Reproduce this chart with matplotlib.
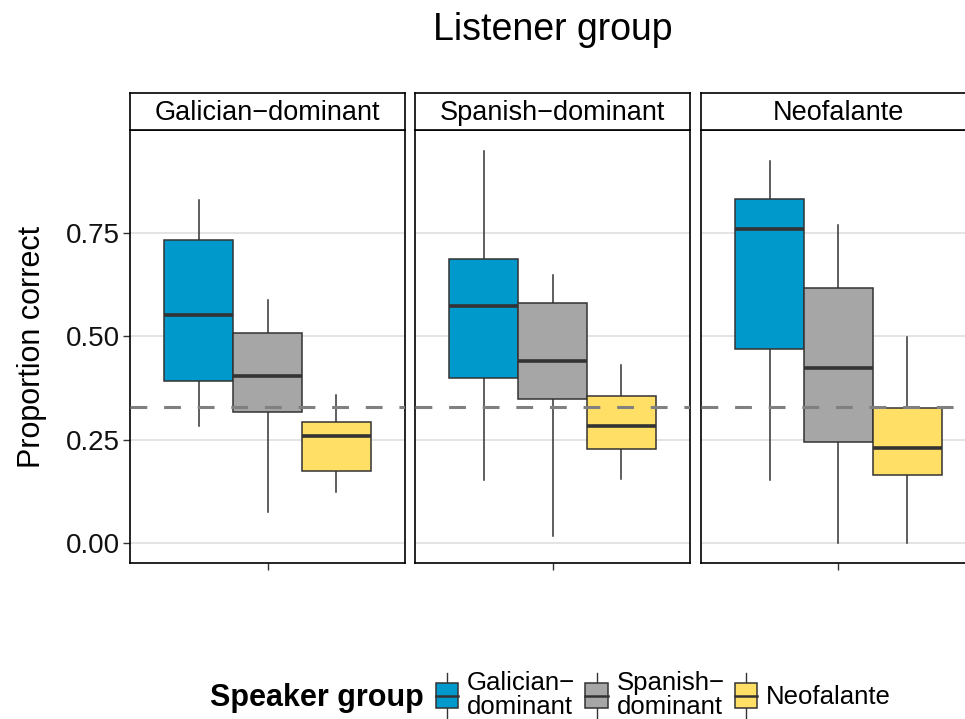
import matplotlib
matplotlib.use("Agg")
import matplotlib.pyplot as plt
from matplotlib.patches import Rectangle
from matplotlib.lines import Line2D
from matplotlib.legend_handler import HandlerBase

plt.rcParams['font.family'] = ['Liberation Sans', 'DejaVu Sans']

# Data (proportion correct)
listeners = ["Galician\u2212dominant", "Spanish\u2212dominant", "Neofalante"]
speakers = ["Galician\u2212\ndominant", "Spanish\u2212\ndominant", "Neofalante"]
colors = ["#0099CC", "#A6A6A6", "#FFDF66"]

# per listener group, per speaker group: [whislo, q1, med, q3, whishi]
galician_listeners = [[0.283, 0.392, 0.552, 0.732, 0.828],
                      [0.075, 0.317, 0.405, 0.508, 0.587],
                      [0.123, 0.175, 0.259, 0.293, 0.357]]
spanish_listeners = [[0.153, 0.399, 0.572, 0.686, 0.946],
                     [0.017, 0.349, 0.439, 0.579, 0.648],
                     [0.155, 0.228, 0.284, 0.356, 0.430]]
neofalante_listeners = [[0.153, 0.470, 0.759, 0.832, 0.922],
                        [0.000, 0.245, 0.422, 0.615, 0.768],
                        [0.000, 0.166, 0.229, 0.327, 0.498]]
chance = 0.33

panels = [galician_listeners, spanish_listeners, neofalante_listeners]

W, H = 965, 719
fig = plt.figure(figsize=(W / 100, H / 100), dpi=100)


def px_box(left, top, right, bottom):
    return [left / W, 1 - bottom / H, (right - left) / W, (bottom - top) / H]


edge = "#333333"
lefts = [130, 415, 701]
for i, (name, stats) in enumerate(zip(listeners, panels)):
    l = lefts[i]
    ax = fig.add_axes(px_box(l, 130, l + 275, 563))
    bxp_stats = []
    for s in stats:
        bxp_stats.append(dict(whislo=s[0], q1=s[1], med=s[2], q3=s[3], whishi=s[4], fliers=[]))
    positions = [0.7, 1.0, 1.3]
    parts = ax.bxp(bxp_stats, positions=positions, widths=0.3, showcaps=False,
                   patch_artist=True, manage_ticks=False,
                   boxprops=dict(edgecolor=edge, linewidth=1.1),
                   whiskerprops=dict(color=edge, linewidth=1.1),
                   medianprops=dict(color=edge, linewidth=2.6, solid_capstyle='butt'))
    for patch, c in zip(parts['boxes'], colors):
        patch.set_facecolor(c)
        patch.set_zorder(3)
    for m in parts['medians']:
        m.set_zorder(4)
    for w in parts['whiskers']:
        w.set_zorder(2)
    ax.axhline(chance, color="#808080", linewidth=2.2, dashes=(5.5, 5.5), zorder=5)
    ax.set_xlim(0.4, 1.6)
    ax.set_ylim(-0.0475, 0.9975)
    ax.set_yticks([0, 0.25, 0.5, 0.75])
    ax.yaxis.grid(True, color="#dcdcdc", linewidth=1.1)
    ax.set_axisbelow(True)
    ax.set_xticks([1.0])
    ax.set_xticklabels([])
    ax.tick_params(axis='x', length=5, width=1.0, color=edge)
    if i == 0:
        ax.set_yticklabels(["0.00", "0.25", "0.50", "0.75"])
        ax.tick_params(axis='y', length=5, width=1.0, color=edge, labelsize=20,
                       labelcolor="#111111", pad=2)
        ax.set_ylabel("Proportion correct", fontsize=22, labelpad=14)
    else:
        ax.tick_params(axis='y', length=0, labelleft=False)
    for sp in ax.spines.values():
        sp.set_color("black")
        sp.set_linewidth(1.2)

    # facet strip
    sax = fig.add_axes(px_box(l, 93, l + 275, 130))
    sax.set_xticks([])
    sax.set_yticks([])
    for sp in sax.spines.values():
        sp.set_color("black")
        sp.set_linewidth(1.2)
    sax.text(0.5, 0.45, name, ha='center', va='center', fontsize=19.5,
             transform=sax.transAxes)

fig.text(553 / W, 1 - 30 / H, "Listener group", ha='center', va='center', fontsize=27)


class BoxKey(HandlerBase):
    def create_artists(self, legend, orig_handle, xdescent, ydescent, width, height,
                       fontsize, trans):
        fc = orig_handle.get_facecolor()
        x0 = -xdescent
        cx = x0 + width / 2
        bh = 25 * 0.72
        y0 = -ydescent + height / 2 - bh / 2
        box = Rectangle((x0, y0), width, bh, facecolor=fc, edgecolor=edge,
                        linewidth=1.1, transform=trans)
        med = Line2D([x0, x0 + width], [y0 + bh / 2] * 2, color=edge, linewidth=1.8,
                     transform=trans)
        w1 = Line2D([cx, cx], [y0 + bh, y0 + bh + 7], color=edge,
                    linewidth=1.0, transform=trans)
        w2 = Line2D([cx, cx], [y0, y0 - 7], color=edge,
                    linewidth=1.0, transform=trans)
        return [w1, w2, box, med]


handles = [Rectangle((0, 0), 1, 1, facecolor=c) for c in colors]
leg = fig.legend(handles, speakers, handler_map={Rectangle: BoxKey()},
                 loc='center left', bbox_to_anchor=(436 / W, 1 - 695 / H), ncol=3,
                 frameon=False, fontsize=18.5, handlelength=0.86, handleheight=0.9,
                 handletextpad=0.35, columnspacing=0.4, borderaxespad=0, borderpad=0)
for t in leg.get_texts():
    t.set_linespacing(0.95)
fig.text(210 / W, 1 - 698 / H, "Speaker group", ha='left', va='center',
         fontsize=22, fontweight='bold')

fig.savefig("out.png", dpi=100)
